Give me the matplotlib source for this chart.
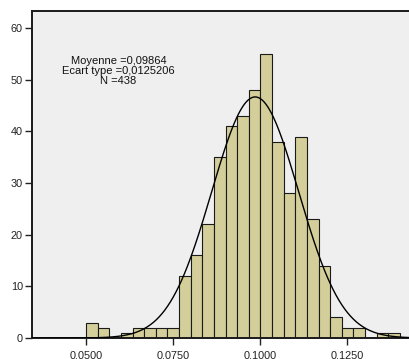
import matplotlib
matplotlib.use("Agg")
import matplotlib.pyplot as plt
import numpy as np
from matplotlib.ticker import FixedLocator, FuncFormatter

plt.rcParams["font.family"] = ["Liberation Sans", "DejaVu Sans"]

# histogram counts, one per bin, starting at 0.0500
counts = [3, 2, 0, 1, 2, 2, 2, 2, 12, 16, 22, 35, 41, 43, 48, 55,
          38, 28, 39, 23, 14, 4, 2, 2, 0, 1, 1]
bin_start = 0.0500
bin_width = 0.003344

# summary stats shown in the box
mean = 0.09864
std = 0.0125206
n_obs = 438

x_ticks = [0.0500, 0.0750, 0.1000, 0.1250]
y_ticks = [0, 10, 20, 30, 40, 50, 60]

BAR_COLOR = "#d4cf9a"
BG_COLOR = "#efefef"

edges = bin_start + bin_width * np.arange(len(counts))

fig = plt.figure(figsize=(4.09, 3.59), dpi=100)
ax = fig.add_axes([32 / 409, 21 / 359, 378 / 409, 327 / 359])
ax.set_facecolor(BG_COLOR)

ax.bar(edges, counts, width=bin_width, align="edge", color=BAR_COLOR,
       edgecolor="#1a1a1a", linewidth=0.8, zorder=2)

xmin, xmax = 0.03442, 0.1432
xs = np.linspace(xmin, xmax, 400)
pdf = np.exp(-0.5 * ((xs - mean) / std) ** 2) / (std * np.sqrt(2 * np.pi))
ax.plot(xs, pdf * n_obs * bin_width, color="black", lw=1.0, zorder=3)

ax.set_xlim(xmin, xmax)
ax.set_ylim(0, 63.3)

ax.xaxis.set_major_locator(FixedLocator(x_ticks))
ax.xaxis.set_major_formatter(FuncFormatter(lambda v, p: f"{v:.4f}".replace(".", ",")))
ax.yaxis.set_major_locator(FixedLocator(y_ticks))

ax.tick_params(axis="both", labelsize=7.8, length=5, width=1.0, pad=1.5,
               color="#222222", labelcolor="#222222")
ax.tick_params(axis="x", pad=4)

for side in ("left", "bottom", "top"):
    ax.spines[side].set_color("#1a1a1a")
    ax.spines[side].set_linewidth(1.4)
ax.spines["right"].set_visible(False)

stats = (f"Moyenne ={mean:.5f}".replace(".", ",") + "\n"
         + f"Ecart type ={std:.7f}".replace(".", ",") + "\n"
         + f"N ={n_obs}")
ax.text(0.229, 0.817, stats, transform=ax.transAxes, ha="center", va="center",
        fontsize=8, linespacing=0.98, color="#111111")

fig.savefig("out.png", dpi=100)
